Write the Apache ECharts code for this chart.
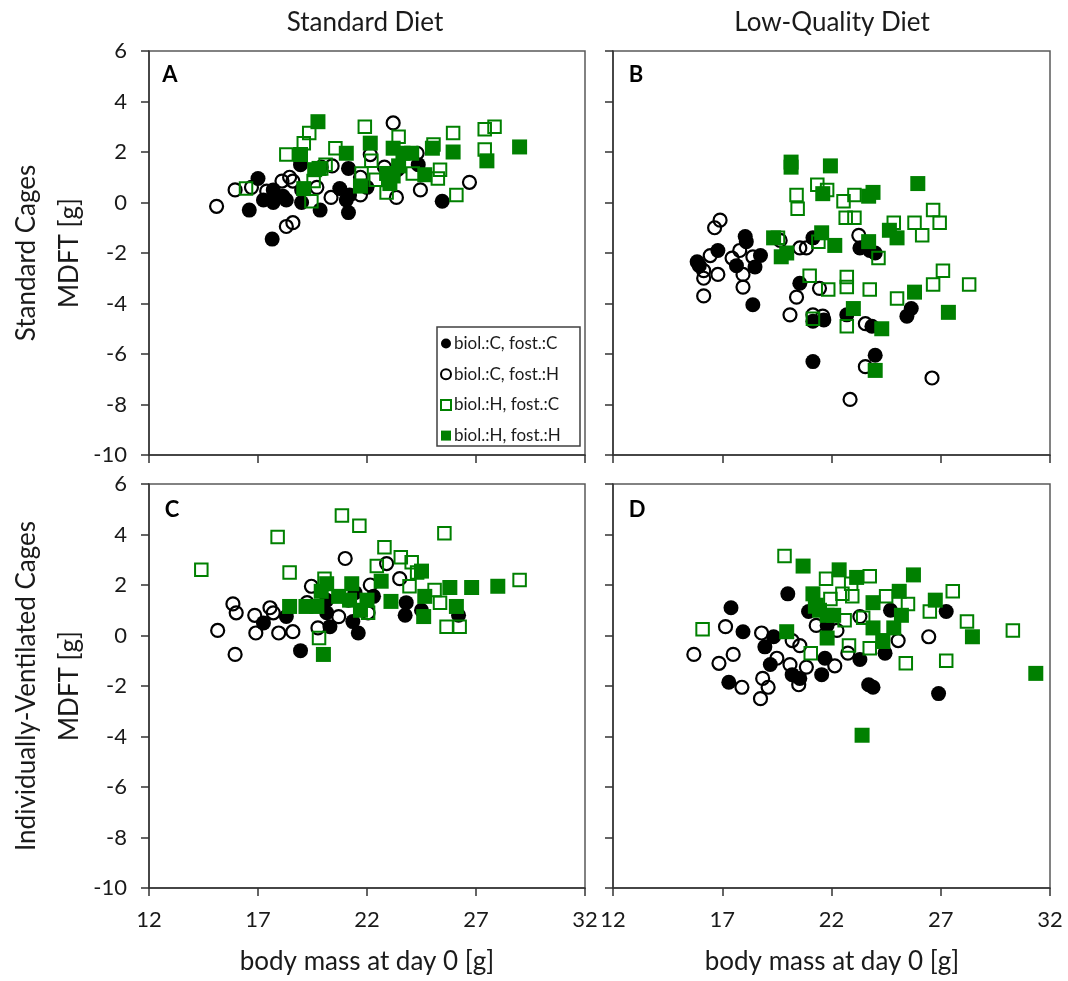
<!DOCTYPE html>
<html>
<head>
<meta charset="utf-8">
<script src="https://cdn.jsdelivr.net/npm/echarts@6/dist/echarts.min.js"></script>
<style>
  html, body { margin: 0; padding: 0; background: #ffffff; }
  #chart { width: 1068px; height: 981px; }
</style>
</head>
<body>
<div id="chart"></div>
<script>
// Group names (biological mother / foster mother)
const groupNames = ['biol.:C, fost.:C', 'biol.:C, fost.:H', 'biol.:H, fost.:C', 'biol.:H, fost.:H'];
const dietTitles = ['Standard Diet', 'Low-Quality Diet'];
const cageTitles = ['Standard Cages', 'Individually-Ventilated Cages'];
const panelLetters = ['A', 'B', 'C', 'D'];
const xTickRange = [12, 32, 5];   // min, max, step of body mass axis
const yTickRange = [-10, 6, 2];   // min, max, step of MDFT axis
const yAxisTitle = 'MDFT [g]';
const xAxisTitle = 'body mass at day 0 [g]';

// Panel A: standard cages, standard diet  [body mass, MDFT]
const aCC = [[16.6,-0.3],[17.0,0.95],[17.25,0.1],[17.65,-1.45],[17.7,0.5],[17.7,0.0],[18.15,0.25],[18.3,0.1],[19.0,0.5],[19.0,0.0],[18.95,1.5],[19.85,-0.3],[20.75,0.55],[21.05,0.1],[21.15,-0.4],[21.15,1.35],[21.2,0.3],[22.0,0.6],[24.35,1.5],[25.45,0.05],[23.4,1.3]];
const aCH = [[15.1,-0.15],[15.95,0.5],[16.7,0.6],[17.4,0.45],[18.1,0.85],[18.45,1.0],[18.3,-0.95],[18.6,-0.8],[18.6,0.85],[19.9,1.4],[20.35,0.2],[20.4,1.45],[21.7,0.3],[21.7,1.0],[22.15,1.9],[23.2,3.15],[23.35,0.2],[24.3,1.95],[24.45,0.5],[26.7,0.8],[22.8,1.4],[19.7,0.6]];
const aHC = [[16.45,0.55],[18.3,1.9],[19.1,2.35],[19.35,2.75],[19.45,0.05],[19.55,0.85],[19.9,1.35],[20.55,2.15],[20.1,1.5],[21.9,3.0],[21.75,1.15],[22.2,1.65],[22.9,0.4],[23.45,2.6],[24.1,1.15],[25.05,2.3],[25.35,1.3],[25.25,0.95],[26.1,0.3],[25.95,2.75],[27.4,2.9],[27.85,3.0],[27.4,2.1],[22.4,0.9]];
const aHH = [[19.75,3.2],[18.95,1.9],[19.1,0.55],[19.6,1.3],[19.8,1.35],[21.05,1.95],[21.7,0.65],[22.15,2.35],[22.9,1.15],[23.05,0.75],[23.2,2.15],[23.2,1.05],[23.45,1.45],[23.65,1.95],[24.05,1.95],[24.65,1.1],[25.0,2.15],[25.95,2.0],[27.5,1.65],[29.0,2.2]];

// Panel B: standard cages, low-quality diet
const bCC = [[15.85,-2.35],[15.95,-2.5],[16.8,-1.9],[18.05,-1.35],[18.1,-1.55],[17.65,-2.5],[18.5,-2.55],[18.75,-2.1],[18.4,-4.05],[21.15,-1.4],[20.55,-3.2],[21.15,-4.7],[21.65,-4.65],[21.15,-6.3],[22.7,-4.45],[23.3,-1.8],[23.75,-1.9],[24.0,-2.0],[23.85,-4.9],[24.0,-6.05],[25.45,-4.5],[25.65,-4.2]];
const bCH = [[16.9,-0.7],[16.65,-1.0],[16.45,-2.1],[16.15,-2.7],[16.15,-3.0],[16.15,-3.7],[16.8,-2.85],[17.45,-2.2],[17.8,-1.9],[17.95,-2.85],[17.95,-3.35],[18.4,-2.15],[19.65,-1.5],[20.55,-1.8],[20.85,-1.8],[20.4,-3.75],[21.45,-3.4],[20.1,-4.45],[21.15,-4.45],[21.6,-4.5],[23.25,-1.3],[23.55,-4.8],[23.55,-6.5],[22.85,-7.8],[26.6,-6.95]];
const bHC = [[21.35,0.7],[21.8,0.5],[20.4,0.3],[20.45,-0.25],[22.55,0.05],[23.05,0.3],[22.65,-0.6],[23.05,-0.6],[19.55,-1.4],[21.4,-1.55],[24.85,-0.8],[25.8,-0.8],[26.65,-0.3],[26.95,-0.8],[26.15,-1.3],[24.15,-2.2],[21.0,-2.9],[21.85,-3.45],[22.7,-2.95],[22.7,-3.35],[23.75,-3.45],[25.0,-3.8],[26.65,-3.25],[27.1,-2.7],[28.3,-3.25],[21.15,-4.6],[22.7,-4.9]];
const bHH = [[20.15,1.6],[20.15,1.4],[21.95,1.45],[21.6,0.35],[23.7,0.25],[23.9,0.4],[25.95,0.75],[21.55,-1.2],[22.15,-1.7],[19.95,-2.0],[19.7,-2.15],[19.35,-1.4],[23.7,-1.55],[24.65,-1.1],[25.0,-1.4],[25.8,-3.55],[27.35,-4.35],[23.0,-4.2],[24.3,-5.0],[24.0,-6.65]];

// Panel C: individually-ventilated cages, standard diet
const cCC = [[17.25,0.5],[18.3,0.75],[18.95,-0.6],[20.15,0.9],[20.3,0.35],[21.35,0.55],[21.6,0.1],[21.45,1.7],[22.3,1.55],[21.15,1.4],[23.8,1.3],[23.75,0.8],[24.5,1.0],[26.2,0.8],[20.15,1.4]];
const cCH = [[15.15,0.2],[15.85,1.25],[16.0,0.9],[15.95,-0.75],[16.85,0.8],[16.9,0.1],[17.55,1.1],[17.7,0.9],[17.95,0.1],[18.6,0.15],[19.45,1.95],[19.25,1.3],[19.75,0.3],[20.7,0.75],[21.0,3.05],[22.15,2.0],[22.9,2.85],[23.5,2.25],[22.05,0.9]];
const cHC = [[14.4,2.6],[17.9,3.9],[18.45,2.5],[20.85,4.75],[21.65,4.35],[19.8,-0.1],[20.05,2.25],[22.8,3.5],[22.45,2.75],[23.55,3.1],[24.05,2.9],[23.95,1.95],[24.3,2.5],[25.55,4.05],[25.1,1.8],[25.35,1.3],[25.65,0.35],[26.25,0.35],[29.0,2.2],[22.05,0.9]];
const cHH = [[18.45,1.15],[19.2,1.15],[19.7,1.15],[20.0,-0.75],[20.15,2.05],[19.9,1.75],[20.7,1.55],[21.3,2.05],[21.2,1.4],[21.7,1.0],[22.0,1.4],[22.65,2.15],[23.1,1.35],[24.5,2.55],[24.65,1.55],[24.6,0.75],[25.8,1.9],[26.1,1.15],[26.8,1.9],[28.0,1.95]];

// Panel D: individually-ventilated cages, low-quality diet
const dCC = [[17.4,1.1],[17.95,0.15],[20.0,1.65],[17.3,-1.85],[18.95,-0.45],[19.35,-0.05],[19.2,-1.15],[20.2,-1.55],[20.55,-1.7],[21.55,-1.55],[21.7,-0.9],[20.95,0.95],[21.8,0.4],[23.3,-0.95],[23.7,-1.95],[23.9,-2.05],[24.45,-0.7],[24.7,1.0],[27.25,0.95],[26.9,-2.3]];
const dCH = [[15.7,-0.75],[17.15,0.35],[17.5,-0.75],[16.85,-1.1],[17.9,-2.05],[18.75,-2.5],[18.85,-1.7],[19.1,-2.05],[18.8,0.1],[19.5,-0.9],[20.1,-1.15],[20.2,-0.2],[20.55,-0.4],[20.5,-1.95],[20.85,-1.25],[21.3,0.4],[22.15,-1.2],[22.25,0.2],[22.75,-0.7],[23.3,0.75],[25.05,-0.2],[26.45,-0.05]];
const dHC = [[19.85,3.15],[16.1,0.25],[21.75,2.25],[22.5,1.65],[22.9,2.05],[23.75,2.35],[21.95,1.45],[22.95,1.55],[22.6,0.6],[23.45,0.7],[24.5,1.55],[25.5,1.25],[26.5,0.95],[27.55,1.75],[28.2,0.55],[30.3,0.2],[21.05,-0.7],[22.8,-0.4],[23.75,-0.5],[24.35,-0.25],[25.4,-1.1],[27.25,-1.0],[21.25,1.15]];
const dHH = [[20.7,2.75],[22.35,2.6],[23.15,2.3],[25.75,2.4],[21.15,1.65],[21.3,1.2],[21.45,1.0],[21.8,0.8],[22.1,0.8],[23.9,1.3],[25.1,1.75],[25.2,0.8],[26.75,1.4],[19.95,0.15],[21.8,-0.1],[23.9,0.3],[24.85,0.3],[28.45,-0.05],[31.35,-1.5],[23.4,-3.95],[24.35,-0.2]];

const panelData = [
  [aCC, aCH, aHC, aHH],
  [bCC, bCH, bHC, bHH],
  [cCC, cCH, cHC, cHH],
  [dCC, dCH, dHC, dHH]
];

// ---- layout and styling ----
const FONT = 'Lato';
const GREEN = '#008000';
const AXIS_COLOR = '#333333';
const BORDER_COLOR = '#595959';

const gridBoxes = [
  { left: 149, top: 51, width: 436, height: 404 },
  { left: 613, top: 51, width: 437, height: 404 },
  { left: 149, top: 484, width: 436, height: 404 },
  { left: 613, top: 484, width: 437, height: 404 }
];

const groupStyles = [
  { symbol: 'circle', symbolSize: 15, itemStyle: { color: '#000000', borderWidth: 0, opacity: 1 } },
  { symbol: 'circle', symbolSize: 13, itemStyle: { color: 'rgba(255,255,255,0)', borderColor: '#000000', borderWidth: 2.2, opacity: 1 } },
  { symbol: 'rect', symbolSize: 12.5, itemStyle: { color: 'rgba(255,255,255,0)', borderColor: GREEN, borderWidth: 2, opacity: 1 } },
  { symbol: 'rect', symbolSize: 15, itemStyle: { color: GREEN, borderWidth: 0, opacity: 1 } }
];

const grids = gridBoxes.map(b => Object.assign({
  show: true, borderColor: BORDER_COLOR, borderWidth: 1.5, backgroundColor: 'transparent'
}, b));

const xAxes = gridBoxes.map((b, i) => ({
  type: 'value', gridIndex: i,
  min: xTickRange[0], max: xTickRange[1], interval: xTickRange[2],
  axisLine: { show: true, onZero: false, lineStyle: { color: AXIS_COLOR, width: 1.5 } },
  axisTick: { show: true, inside: false, length: 8, lineStyle: { color: AXIS_COLOR, width: 1.5 } },
  axisLabel: { show: i >= 2, margin: 21, fontFamily: FONT, fontSize: 22, color: '#1a1a1a' },
  splitLine: { show: false }
}));

const yAxes = gridBoxes.map((b, i) => ({
  type: 'value', gridIndex: i,
  min: yTickRange[0], max: yTickRange[1], interval: yTickRange[2],
  axisLine: { show: true, onZero: false, lineStyle: { color: AXIS_COLOR, width: 1.5 } },
  axisTick: { show: true, inside: false, length: 8, lineStyle: { color: AXIS_COLOR, width: 1.5 } },
  axisLabel: { show: i % 2 === 0, margin: 22, fontFamily: FONT, fontSize: 22, color: '#1a1a1a' },
  splitLine: { show: false }
}));

const series = [];
panelData.forEach((groups, p) => {
  groups.forEach((pts, g) => {
    series.push(Object.assign({
      type: 'scatter',
      name: groupNames[g],
      xAxisIndex: p,
      yAxisIndex: p,
      data: pts,
      z: 2 + g,
      emphasis: { disabled: true }
    }, groupStyles[g]));
  });
});

function label(text, x, y, size, opts) {
  return Object.assign({
    type: 'text', x: x, y: y, z: 10,
    style: Object.assign({
      text: text, fontFamily: FONT, fontSize: size, fill: '#1a1a1a',
      align: 'center', verticalAlign: 'middle'
    }, (opts && opts.style) || {})
  }, (opts && opts.el) || {});
}

const graphics = [
  // legend frame inside panel A
  { type: 'rect', shape: { x: 437, y: 327, width: 143, height: 119 }, z: 3,
    style: { fill: '#ffffff', stroke: '#404040', lineWidth: 1.5 } },
  label(dietTitles[0], 365, 23, 26),
  label(dietTitles[1], 832, 23, 26),
  label(cageTitles[0], 27, 253, 26, { el: { rotation: Math.PI / 2 } }),
  label(cageTitles[1], 27, 686, 26, { el: { rotation: Math.PI / 2 } }),
  label(yAxisTitle, 70, 253, 26, { el: { rotation: Math.PI / 2 } }),
  label(yAxisTitle, 70, 686, 26, { el: { rotation: Math.PI / 2 } }),
  label(xAxisTitle, 367, 962, 26),
  label(xAxisTitle, 832, 962, 26),
  label(panelLetters[0], 170, 75, 22, { style: { fontWeight: 'bold', fill: '#000' } }),
  label(panelLetters[1], 636, 75, 22, { style: { fontWeight: 'bold', fill: '#000' } }),
  label(panelLetters[2], 172, 510, 22, { style: { fontWeight: 'bold', fill: '#000' } }),
  label(panelLetters[3], 637, 510, 22, { style: { fontWeight: 'bold', fill: '#000' } })
];

const chart = echarts.init(document.getElementById('chart'), null, { renderer: 'canvas' });
chart.setOption({
  animation: false,
  backgroundColor: '#ffffff',
  grid: grids,
  xAxis: xAxes,
  yAxis: yAxes,
  legend: {
    data: groupNames,
    orient: 'vertical',
    left: 440, top: 335,
    padding: 0,
    itemWidth: 10, itemHeight: 10,
    itemGap: 13.7,
    z: 6,
    selectedMode: false,
    textStyle: { fontFamily: FONT, fontSize: 17, lineHeight: 16, color: '#1a1a1a', padding: [0, 0, 0, -2] }
  },
  graphic: graphics,
  series: series
});
</script>
</body>
</html>
